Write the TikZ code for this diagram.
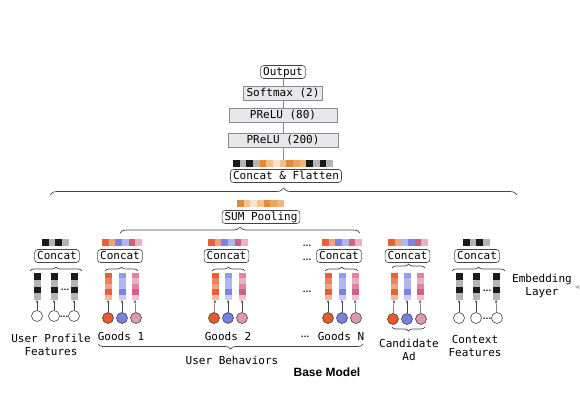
\documentclass[tikz,border=0pt]{standalone}
\usepackage{fontspec}
\setmonofont{DejaVu Sans Mono}
\setsansfont{Liberation Sans}
\usetikzlibrary{decorations.pathreplacing,arrows.meta}
\definecolor{K}{HTML}{1A1A1A}
\definecolor{G}{HTML}{B4B4B4}
\definecolor{OA}{HTML}{E48A35}
\definecolor{OB}{HTML}{F2C38E}
\definecolor{OC}{HTML}{F8E2C8}
\definecolor{OD}{HTML}{EBA458}
\definecolor{OE}{HTML}{EFB57A}
\definecolor{RA}{HTML}{E8603A}
\definecolor{RB}{HTML}{F0A284}
\definecolor{RC}{HTML}{EC8462}
\definecolor{RD}{HTML}{F4BA9E}
\definecolor{BA}{HTML}{7C84E0}
\definecolor{BB}{HTML}{B0B6F0}
\definecolor{BC}{HTML}{949BE8}
\definecolor{BD}{HTML}{CACEF6}
\definecolor{PA}{HTML}{D2607F}
\definecolor{PB}{HTML}{E8B2C4}
\definecolor{PC}{HTML}{DC86A0}
\definecolor{PD}{HTML}{EDC2CF}
\definecolor{CR}{HTML}{E85A2E}
\definecolor{CB}{HTML}{7880E0}
\definecolor{CP}{HTML}{E09AAE}
\definecolor{LN}{HTML}{444444}
\definecolor{BOXF}{HTML}{E8E8EC}
\definecolor{BOXD}{HTML}{8A8A8A}
% horizontal embedding row: x0, y0, colours
\newcommand{\hrow}[3]{\foreach \c [count=\i from 0] in {#3} {\fill[\c] ({#1+\i*6.67},#2) rectangle ++(6.67,7);}}
% vertical column: x centre, name, cell height, colours
\newcommand{\vcol}[4]{\foreach \c [count=\i from 0] in {#4} {\fill[\c] ({#1-3.5},{273+\i*#3}) rectangle ++(7,#3);}\coordinate (#2) at (#1,300);}
\begin{document}
\begin{tikzpicture}[x=1pt,y=-1pt,
  font=\ttfamily\fontsize{11}{13}\selectfont,
  rbox/.style={draw=LN,line width=0.6pt,rounded corners=3pt,inner xsep=2.5pt,inner ysep=1pt,text height=8.5pt,text depth=2.5pt},
  gbox/.style={draw=BOXD,fill=BOXF,line width=0.6pt,inner sep=0pt,minimum height=14pt},
  brc/.style={draw=LN,line width=0.7pt,decorate,decoration={brace,amplitude=#1}},
  brc/.default=4pt,
  arr/.style={draw=LN,line width=0.5pt,-{Stealth[length=2.8pt,width=2.4pt]}},
  cir/.style={circle,draw=LN,line width=0.6pt,minimum size=11pt,inner sep=0pt},
  lbl/.style={align=center,inner sep=0pt},
  dots/.style={inner sep=0pt,font=\sffamily\bfseries\fontsize{9}{10}\selectfont}]
\useasboundingbox (0,0) rectangle (580,400);

% ---- top tower
\node[rbox] (out) at (283,72) {Output};
\node[gbox,minimum width=79pt] (sm) at (283,93) {Softmax (2)};
\node[gbox,minimum width=108pt] (p80) at (283,115.5) {PReLU (80)};
\node[gbox,minimum width=110pt] (p200) at (283,140.5) {PReLU (200)};
\coordinate (emb) at (283,160);
\draw[BOXD,line width=0.6pt] (out) -- (sm);
\draw[BOXD,line width=0.6pt] (sm) -- (p80);
\draw[BOXD,line width=0.6pt] (p80) -- (p200);
\draw[BOXD,line width=0.6pt] (p200) -- (emb);
\hrow{233}{160}{K,G,K,G,OA,OB,OC,OB,OA,OD,OE,K,G,K,G}
\node[rbox] (cf) at (286,176) {Concat \& Flatten};
\draw[brc=7pt] (50,195) -- (517,195);

% ---- SUM pooling
\hrow{237}{200}{OA,OB,OC,OB,OA,OD,OE}
\node[rbox] (sum) at (261,217) {SUM Pooling};
\draw[brc=6pt] (120,233) -- (360,233);

% ---- User profile
\hrow{42}{239}{K,G,K,G}
\node[rbox] (cup) at (57,256) {Concat};
\draw[brc=4pt] (30,271) -- (82,271);
\vcol{37}{u1}{6.75}{K,G,K,G}
\vcol{54}{u2}{6.75}{K,G,K,G}
\vcol{74}{u3}{6.75}{K,G,K,G}
\node[cir] (uc1) at (37,316) {};
\node[cir] (uc2) at (54,316) {};
\node[cir] (uc3) at (74,316) {};
\draw[arr] (uc1) -- (u1);
\draw[arr] (uc2) -- (u2);
\draw[arr] (uc3) -- (u3);
\node[dots] (ud1) at (65,290) {…};
\node[dots] (ud2) at (64,317) {…};
\node[lbl] (ulab) at (51,345) {User Profile\\Features};

% ---- Goods 1
\hrow{102}{239}{RA,RB,BA,BB,PA,PB}
\node[rbox] (cg1) at (120,256) {Concat};
\draw[brc=4pt] (105,271) -- (138,271);
\vcol{108}{g1a}{5.4}{RA,RC,RB,RA,RD}
\vcol{122}{g1b}{5.4}{BC,BB,BB,BA,BD}
\vcol{135}{g1c}{5.4}{PC,PB,PC,PA,PD}
\node[cir,fill=CR] (g1r) at (108,318) {};
\node[cir,fill=CB] (g1u) at (122,318) {};
\node[cir,fill=CP] (g1p) at (136,318) {};
\draw[arr] (g1r) -- (g1a);
\draw[arr] (g1u) -- (g1b);
\draw[arr] (g1p) -- (g1c);
\node[lbl] (gl1) at (121,336) {Goods 1};

% ---- Goods 2
\hrow{208}{239}{RA,RB,BA,BB,PA,PB}
\node[rbox] (cg2) at (226.5,256) {Concat};
\draw[brc=4pt] (212,271) -- (245,271);
\vcol{215}{g2a}{5.4}{RA,RC,RB,RA,RD}
\vcol{228}{g2b}{5.4}{BC,BB,BB,BA,BD}
\vcol{242}{g2c}{5.4}{PC,PB,PC,PA,PD}
\node[cir,fill=CR] (g2r) at (214,318) {};
\node[cir,fill=CB] (g2u) at (228,318) {};
\node[cir,fill=CP] (g2p) at (242,318) {};
\draw[arr] (g2r) -- (g2a);
\draw[arr] (g2u) -- (g2b);
\draw[arr] (g2p) -- (g2c);
\node[lbl] (gl2) at (228,336) {Goods 2};

% ---- Goods N
\hrow{322}{239}{RA,RB,BA,BB,PA,PB}
\node[rbox] (cgn) at (339,256) {Concat};
\draw[brc=4pt] (325,271) -- (358,271);
\vcol{328}{gna}{5.4}{RA,RC,RB,RA,RD}
\vcol{342}{gnb}{5.4}{BC,BB,BB,BA,BD}
\vcol{355}{gnc}{5.4}{PC,PB,PC,PA,PD}
\node[cir,fill=CR] (gnr) at (328,318) {};
\node[cir,fill=CB] (gnu) at (342,318) {};
\node[cir,fill=CP] (gnp) at (356,318) {};
\draw[arr] (gnr) -- (gna);
\draw[arr] (gnu) -- (gnb);
\draw[arr] (gnp) -- (gnc);
\node[lbl] (gln) at (341,336) {Goods N};
\node[dots] (nd1) at (307,246) {…};
\node[dots] (nd2) at (307,260) {…};
\node[dots] (nd3) at (307,292) {…};
\node[dots] (nd4) at (305,337) {…};

\draw[brc=5pt] (363,344) -- (98,344);
\node[lbl] (ub) at (232,360) {User Behaviors};
\node[lbl,font=\sffamily\bfseries\fontsize{12}{14}\selectfont] (bm) at (327,372) {Base Model};

% ---- Candidate Ad
\hrow{388}{239}{RA,RB,BB,BA,PA,PB}
\node[rbox] (cca) at (407.5,256) {Concat};
\draw[brc=4pt] (392,268) -- (425,268);
\vcol{394}{caa}{5.4}{RA,RC,RB,RA,RD}
\vcol{407}{cab}{5.4}{BC,BB,BB,BA,BD}
\vcol{420}{cac}{5.4}{PC,PB,PC,PA,PD}
\node[cir,fill=CR] (car) at (393,319) {};
\node[cir,fill=CB] (cau) at (407,319) {};
\node[cir,fill=CP] (cap) at (421,319) {};
\draw[arr] (car) -- (caa);
\draw[arr] (cau) -- (cab);
\draw[arr] (cap) -- (cac);
\draw[brc=4pt] (425,327) -- (392,327);
\node[lbl] (calab) at (409,350) {Candidate\\Ad};

% ---- Context features
\hrow{463}{239}{K,G,K,G}
\node[rbox] (cct) at (477,256) {Concat};
\draw[brc=4pt] (452,271) -- (505,271);
\vcol{459}{x1}{6.75}{K,G,K,G}
\vcol{476}{x2}{6.75}{K,G,K,G}
\vcol{496}{x3}{6.75}{K,G,K,G}
\node[cir] (xc1) at (459,318) {};
\node[cir] (xc2) at (476,318) {};
\node[cir] (xc3) at (497,318) {};
\draw[arr] (xc1) -- (x1);
\draw[arr] (xc2) -- (x2);
\draw[arr] (xc3) -- (x3);
\node[dots] (xd1) at (487,291) {…};
\node[dots] (xd2) at (487,319) {…};
\node[lbl] (xlab) at (475,346) {Context\\Features};

% ---- Embedding layer
\node[lbl] (el) at (542,286) {Embedding\\Layer};
\fill[G] (575,287) -- (579,285) -- (579,289) -- cycle;
\end{tikzpicture}
\end{document}
